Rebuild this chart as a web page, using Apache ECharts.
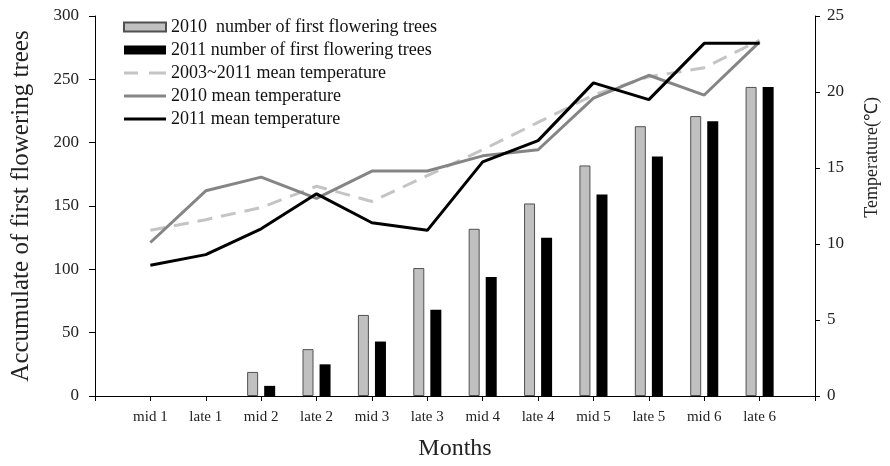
<!DOCTYPE html>
<html>
<head>
<meta charset="utf-8">
<script src="https://cdn.jsdelivr.net/npm/echarts@6/dist/echarts.min.js"></script>
<style>html,body{margin:0;padding:0;background:#fff}#c{width:890px;height:466px}</style>
</head>
<body>
<div id="c"></div>
<script>
var categories = ['mid 1','late 1','mid 2','late 2','mid 3','late 3','mid 4','late 4','mid 5','late 5','mid 6','late 6'];
var trees2010 = [0, 0, 19, 37, 64, 101, 132, 152, 182, 213, 221, 244];
var trees2011 = [0, 0, 8, 25, 43, 68, 94, 125, 159, 189, 217, 244];
var tempMean = [10.9, 11.6, 12.4, 13.8, 12.8, 14.5, 16.2, 18.0, 19.8, 21.0, 21.6, 23.4];
var temp2010 = [10.1, 13.5, 14.4, 13.0, 14.8, 14.8, 15.8, 16.2, 19.6, 21.1, 19.8, 23.3];
var temp2011 = [8.6, 9.3, 11.0, 13.3, 11.4, 10.9, 15.4, 16.8, 20.6, 19.5, 23.2, 23.2];
var leftTicks = [0, 50, 100, 150, 200, 250, 300];
var rightTicks = [0, 5, 10, 15, 20, 25];

function pad(a){ return [null].concat(a, [null]); }
function padBars(a){ return pad(a.map(function(v){ return v === 0 ? null : v; })); }
var axisCats = [''].concat(categories, ['']);
var FONT = 'Liberation Serif';
var names = ['2010  number of first flowering trees','2011 number of first flowering trees','2003~2011 mean temperature','2010 mean temperature','2011 mean temperature'];

// legend icon shapes (tiny corner specks keep the icon box 42x9 so the stroke stays 3px thick)
var EXT = 'M0,0h0.05v0.05h-0.05z M0,8.95h0.05v0.05h-0.05z M41.95,0h0.05v0.05h-0.05z ';
var ICON_SOLID = 'path://' + EXT + 'M0,3h42v3h-42z';
var ICON_DASH = 'path://' + EXT + 'M0,3h14v3h-14z M25,3h17v3h-17z';

var chart = echarts.init(document.getElementById('c'), null, {renderer:'canvas'});
chart.setOption({
  animation: false,
  backgroundColor: '#fff',
  textStyle: {fontFamily: FONT},
  grid: {left: 95, right: 75, top: 16, bottom: 70, containLabel: false, outerBoundsMode: 'none'},
  legend: {
    orient: 'vertical', left: 118, top: 13,
    itemWidth: 42, itemHeight: 9, itemGap: 5,
    textStyle: {fontFamily: FONT, fontSize: 18, color: '#111'},
    data: [
      {name: names[0], icon: 'rect'},
      {name: names[1], icon: 'rect'},
      {name: names[2], icon: ICON_DASH},
      {name: names[3], icon: ICON_SOLID},
      {name: names[4], icon: ICON_SOLID}
    ]
  },
  xAxis: {
    type: 'category', data: axisCats, boundaryGap: false,
    axisLine: {lineStyle: {color: '#000', width: 1}},
    axisTick: {show: true, length: 5, lineStyle: {color: '#000'}, interval: 0},
    axisLabel: {interval: 0, fontFamily: FONT, fontSize: 15, color: '#222', margin: 14},
    name: 'Months', nameLocation: 'middle', nameGap: 41,
    nameTextStyle: {fontFamily: FONT, fontSize: 24, color: '#222'}
  },
  yAxis: [{
    type: 'value', min: leftTicks[0], max: leftTicks[leftTicks.length-1], interval: 50,
    position: 'left',
    axisLine: {show: true, lineStyle: {color: '#000'}},
    axisTick: {show: true, length: 6, lineStyle: {color: '#000'}},
    splitLine: {show: false},
    axisLabel: {fontFamily: FONT, fontSize: 17, color: '#222', margin: 16},
    name: 'Accumulate of first flowering trees', nameLocation: 'middle', nameGap: 61,
    nameTextStyle: {fontFamily: FONT, fontSize: 25, color: '#222'}
  },{
    type: 'value', min: rightTicks[0], max: rightTicks[rightTicks.length-1], interval: 5,
    position: 'right',
    axisLine: {show: true, lineStyle: {color: '#000'}},
    axisTick: {show: true, length: 5, lineStyle: {color: '#000'}},
    splitLine: {show: false},
    axisLabel: {fontFamily: FONT, fontSize: 17, color: '#222', margin: 12}
  }],
  graphic: [{
    type: 'text', left: 863, top: 97, rotation: Math.PI/2,
    style: {text: 'Temperature(℃)', font: '18px "Liberation Serif"', fill: '#222'}
  }],
  series: [{
    name: names[0], type: 'bar', yAxisIndex: 0,
    data: padBars(trees2010), barWidth: 11, barGap: '55%',
    itemStyle: {color: '#c0c0c0', borderColor: '#505050', borderWidth: 1}
  },{
    name: names[1], type: 'bar', yAxisIndex: 0,
    data: padBars(trees2011), barWidth: 11,
    itemStyle: {color: '#000', borderColor: '#000', borderWidth: 0}
  },{
    name: names[2], type: 'line', yAxisIndex: 1,
    data: pad(tempMean), symbol: 'none',
    lineStyle: {color: '#c4c4c4', width: 3, type: [15, 9]},
    itemStyle: {color: '#c4c4c4'}
  },{
    name: names[3], type: 'line', yAxisIndex: 1,
    data: pad(temp2010), symbol: 'none',
    lineStyle: {color: '#858585', width: 3},
    itemStyle: {color: '#858585'}
  },{
    name: names[4], type: 'line', yAxisIndex: 1,
    data: pad(temp2011), symbol: 'none',
    lineStyle: {color: '#000', width: 3},
    itemStyle: {color: '#000'}
  }]
});
</script>
</body>
</html>
